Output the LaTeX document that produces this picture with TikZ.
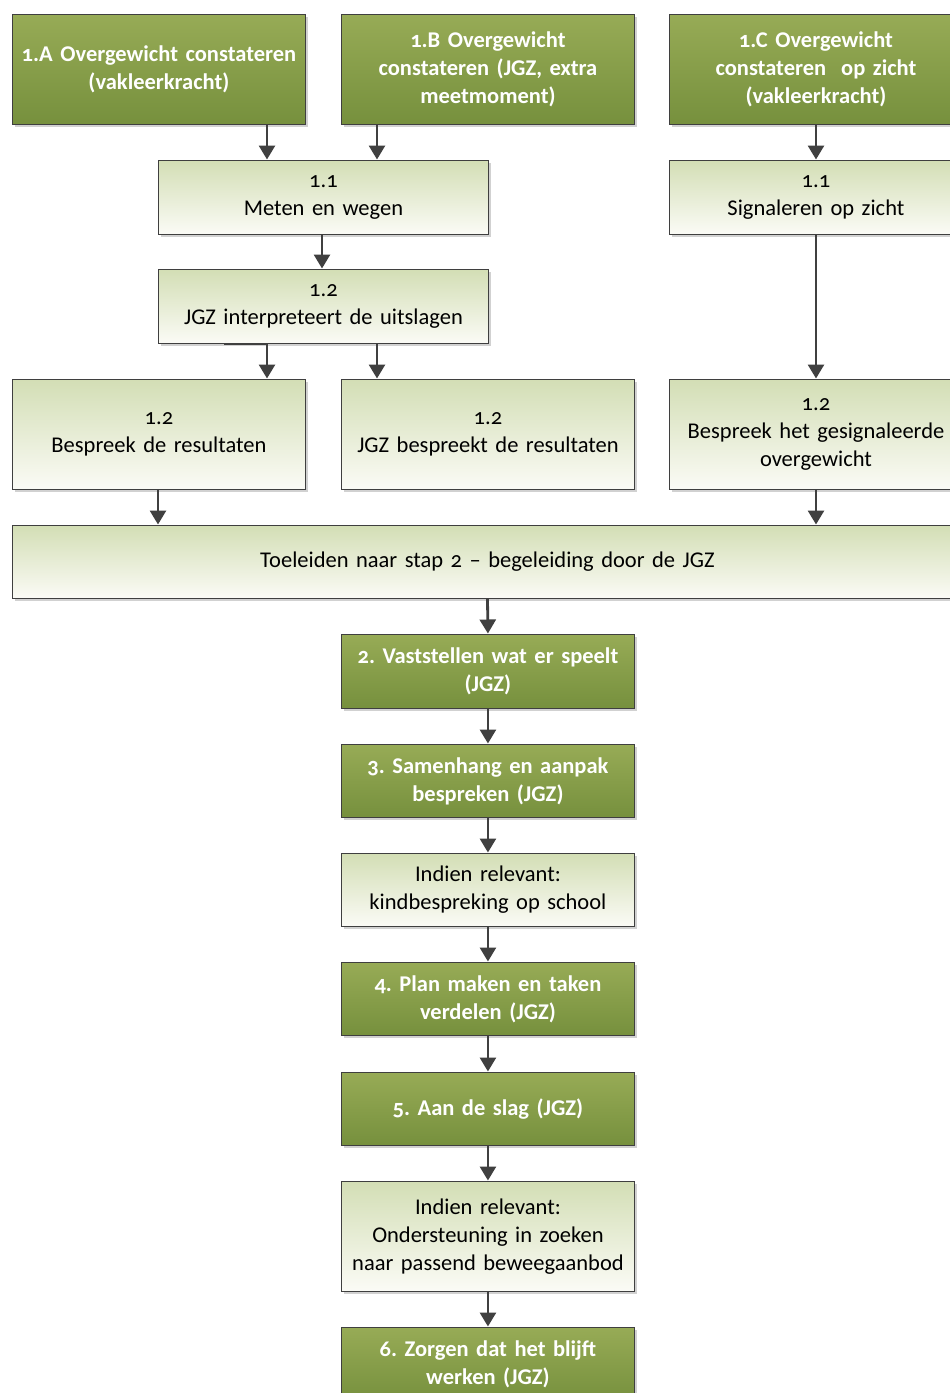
\documentclass[tikz,border=0pt]{standalone}
\usepackage{fontspec}
\setmainfont{Carlito}[Numbers=OldStyle,WordSpace=0.8]
\usetikzlibrary{shadows,arrows.meta}
\definecolor{dgtop}{HTML}{97AB56}
\definecolor{dgbot}{HTML}{76903D}
\definecolor{lgtop}{HTML}{D3DEB5}
\definecolor{lgbot}{HTML}{FBFBF6}
\definecolor{edge}{HTML}{3F3F3F}
\definecolor{arrc}{HTML}{404040}
\tikzset{
  base/.style={rectangle, draw=edge, line width=0.9pt, anchor=north west, inner sep=2pt, align=center,
    font=\fontsize{22.5}{28}\selectfont\frenchspacing,
    general shadow={fill=black!18, shadow xshift=3pt, shadow yshift=-3pt}},
  darkbox/.style={base, top color=dgtop, bottom color=dgbot, text=white, font=\fontsize{22.5}{28}\selectfont\bfseries\frenchspacing},
  lightbox/.style={base, top color=lgtop, bottom color=lgbot, text=black},
  w/.style={minimum width=#1pt, text width=#1pt-6pt},
  h/.style={minimum height=#1pt},
  arr/.style={draw=arrc, line width=2.8pt, -{Triangle[width=16pt,length=14pt]}, shorten >=0.5pt}
}
\begin{document}
\begin{tikzpicture}[x=1pt,y=-1pt]
\useasboundingbox (0,0) rectangle (950,1393);
\clip (0,0) rectangle (950,1393);
\fill[white] (0,0) rectangle (950,1393);
% coordinates for arrow columns
\coordinate (xa) at (267,0);
\coordinate (xb) at (377,0);
\coordinate (xc) at (322,0);
\coordinate (xd) at (224,0);
\coordinate (xe) at (816,0);
\coordinate (xf) at (158,0);
\coordinate (xg) at (487.5,0);
% row 1
\node[darkbox, w=293, h=110] (A) at (12,14) {1.A Overgewicht constateren\\(vakleerkracht)};
\node[darkbox, w=293, h=110] (B) at (341,14) {1.B Overgewicht\\constateren (JGZ, extra\\meetmoment)};
\node[darkbox, w=293, h=110] (C) at (669,14) {1.C Overgewicht\\constateren~~op zicht\\(vakleerkracht)};
% row 2
\node[lightbox, w=330, h=74] (M) at (158,160) {1.1\\Meten en wegen};
\node[lightbox, w=293, h=74] (S) at (669,160) {1.1\\Signaleren op zicht};
% row 3
\node[lightbox, w=330, h=74] (I) at (158,269) {1.2\\JGZ interpreteert de uitslagen};
% row 4
\node[lightbox, w=293, h=110] (R1) at (12,379) {1.2\\Bespreek de resultaten};
\node[lightbox, w=293, h=110] (R2) at (341,379) {1.2\\JGZ bespreekt de resultaten};
\node[lightbox, w=293, h=110] (R3) at (669,379) {1.2\\Bespreek het gesignaleerde\\overgewicht};
% Toeleiden
\node[lightbox, w=950, h=73] (T) at (12,525) {Toeleiden naar stap 2 -- begeleiding door de JGZ};
% chain
\node[darkbox, w=293, h=74] (V2) at (341,634) {2. Vaststellen wat er speelt\\(JGZ)};
\node[darkbox, w=293, h=73] (V3) at (341,744) {3. Samenhang en aanpak\\bespreken (JGZ)};
\node[lightbox, w=293, h=73] (K) at (341,853) {Indien relevant:\\kindbespreking op school};
\node[darkbox, w=293, h=73] (V4) at (341,962) {4. Plan maken en taken\\verdelen (JGZ)};
\node[darkbox, w=293, h=73] (V5) at (341,1072) {5. Aan de slag (JGZ)};
\node[lightbox, w=293, h=110] (O) at (341,1181) {Indien relevant:\\Ondersteuning in zoeken\\naar passend beweegaanbod};
\node[darkbox, w=293, h=74] (V6) at (341,1327) {6. Zorgen dat het blijft\\werken (JGZ)};
% arrows
\draw[arr] (A.south -| xa) -- (M.north -| xa);
\draw[arr] (B.south -| xb) -- (M.north -| xb);
\draw[arr] (M.south -| xc) -- (I.north -| xc);
\draw[arr] (I.south -| xd) -| (R1.north -| xa);
\draw[arr] (I.south -| xb) -- (R2.north -| xb);
\draw[arr] (C.south -| xe) -- (S.north -| xe);
\draw[arr] (S.south -| xe) -- (R3.north -| xe);
\draw[arr] (R1.south -| xf) -- (T.north -| xf);
\draw[arr] (R3.south -| xe) -- (T.north -| xe);
\draw[arr] (T.south -| xg) -- (V2.north);
\draw[arr] (V2.south) -- (V3.north);
\draw[arr] (V3.south) -- (K.north);
\draw[arr] (K.south) -- (V4.north);
\draw[arr] (V4.south) -- (V5.north);
\draw[arr] (V5.south) -- (O.north);
\draw[arr] (O.south) -- (V6.north);
\end{tikzpicture}
\end{document}
